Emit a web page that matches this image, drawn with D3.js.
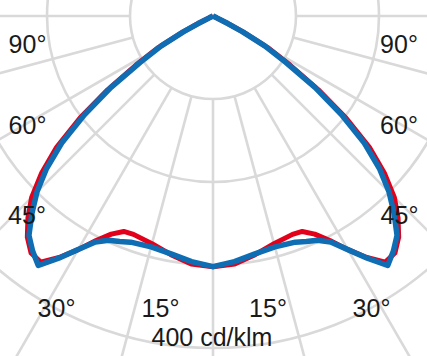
<!DOCTYPE html>
<html><head><meta charset="utf-8">
<script src="https://cdn.jsdelivr.net/npm/d3@7"></script>
<style>html,body{margin:0;padding:0;background:#fff;overflow:hidden}</style>
</head><body>
<svg id="c" width="427" height="356"></svg>
<script>
// Data (cd/klm), angle in degrees from nadir; negative = left side
const angles = [-90,-65,-64,-63,-62,-60,-57.5,-55,-52.5,-50,-47.5,-45,-42.5,-40,-37.5,-35,-32.5,-30,-27.5,-25,-22.5,-20,-15,-10,-5,0,5,10,15,20,22.5,25,27.5,30,32.5,35,37.5,40,42.5,45,47.5,50,52.5,55,57.5,60,62,63,64,65,90];
const blueValues = [0,0,5,20,40,72,104,150,195,238,272,300,323,345,357,367,346,325,307,298,294,290,288,291,297,302,297,291,288,290,294,298,307,325,346,367,357,345,323,300,272,238,195,150,104,72,40,20,5,0,0];
const redValues = [0,0,6,22,42,76,110,155,202,246,280,309,330,348,360,362,345,325,305,290,281,280,284,292,300,302,300,292,284,280,281,290,305,325,345,362,360,348,330,309,280,246,202,155,110,76,42,22,6,0,0];
const ringValues = [100,200,300,400,500];
const spokeAngles = [0,15,30,45,60,75,90,105,120,135,150,165,180,195,210,225,240,255,270,285,300,315,330,345];
const angleLabels = ["90°","60°","45°","30°","15°"];
const unitLabel = "400 cd/klm";

const svg = d3.select("#c");
const cx = 213, cy = 16;
const r = d3.scaleLinear().domain([0,100]).range([0,83]);
const g = svg.append("g").attr("transform",`translate(${cx},${cy})`);
const grid = "#d9d9d9";

// rings
g.selectAll("circle.ring").data(ringValues).enter().append("circle")
  .attr("r", d=>r(d)).attr("fill","none").attr("stroke",grid).attr("stroke-width",2.6);
// spokes (start at first ring)
g.selectAll("line.spoke").data(spokeAngles).enter().append("line")
  .attr("x1", d=>r(100)*Math.sin(d*Math.PI/180))
  .attr("y1", d=>r(100)*Math.cos(d*Math.PI/180))
  .attr("x2", d=>r(700)*Math.sin(d*Math.PI/180))
  .attr("y2", d=>r(700)*Math.cos(d*Math.PI/180))
  .attr("stroke",grid).attr("stroke-width",2.6);

const line = d3.lineRadial()
  .angle(d=>Math.PI - d[0]*Math.PI/180)
  .radius(d=>r(d[1]))
  .curve(d3.curveLinear);

const redData = angles.map((a,i)=>[a,redValues[i]]);
const blueData = angles.map((a,i)=>[a,blueValues[i]]);
g.append("path").datum(redData).attr("d",line).attr("fill","none")
  .attr("stroke","#e2001a").attr("stroke-width",5).attr("stroke-linejoin","round");
g.append("path").datum(blueData).attr("d",line).attr("fill","none")
  .attr("stroke","#0f6db3").attr("stroke-width",5.5).attr("stroke-linejoin","round");

// labels
const font = "'Liberation Sans', Arial, sans-serif";
const leftPos = [[27.5,53],[27.5,134],[27,224],[56.5,316.5],[160.5,316.5]];
const rightPos = [[399,53],[399,134],[399.5,224],[371.5,316.5],[268,316.5]];
angleLabels.forEach((t,i)=>{
  [leftPos[i], rightPos[i]].forEach(p=>{
    svg.append("text").attr("x",p[0]).attr("y",p[1]).attr("text-anchor","middle")
      .attr("font-family",font).attr("font-size",25).attr("fill","#1a1a1a").text(t);
  });
});
svg.append("text").attr("x",212).attr("y",346).attr("text-anchor","middle")
  .attr("font-family",font).attr("font-size",25).attr("fill","#1a1a1a").text(unitLabel);
</script>
</body></html>
